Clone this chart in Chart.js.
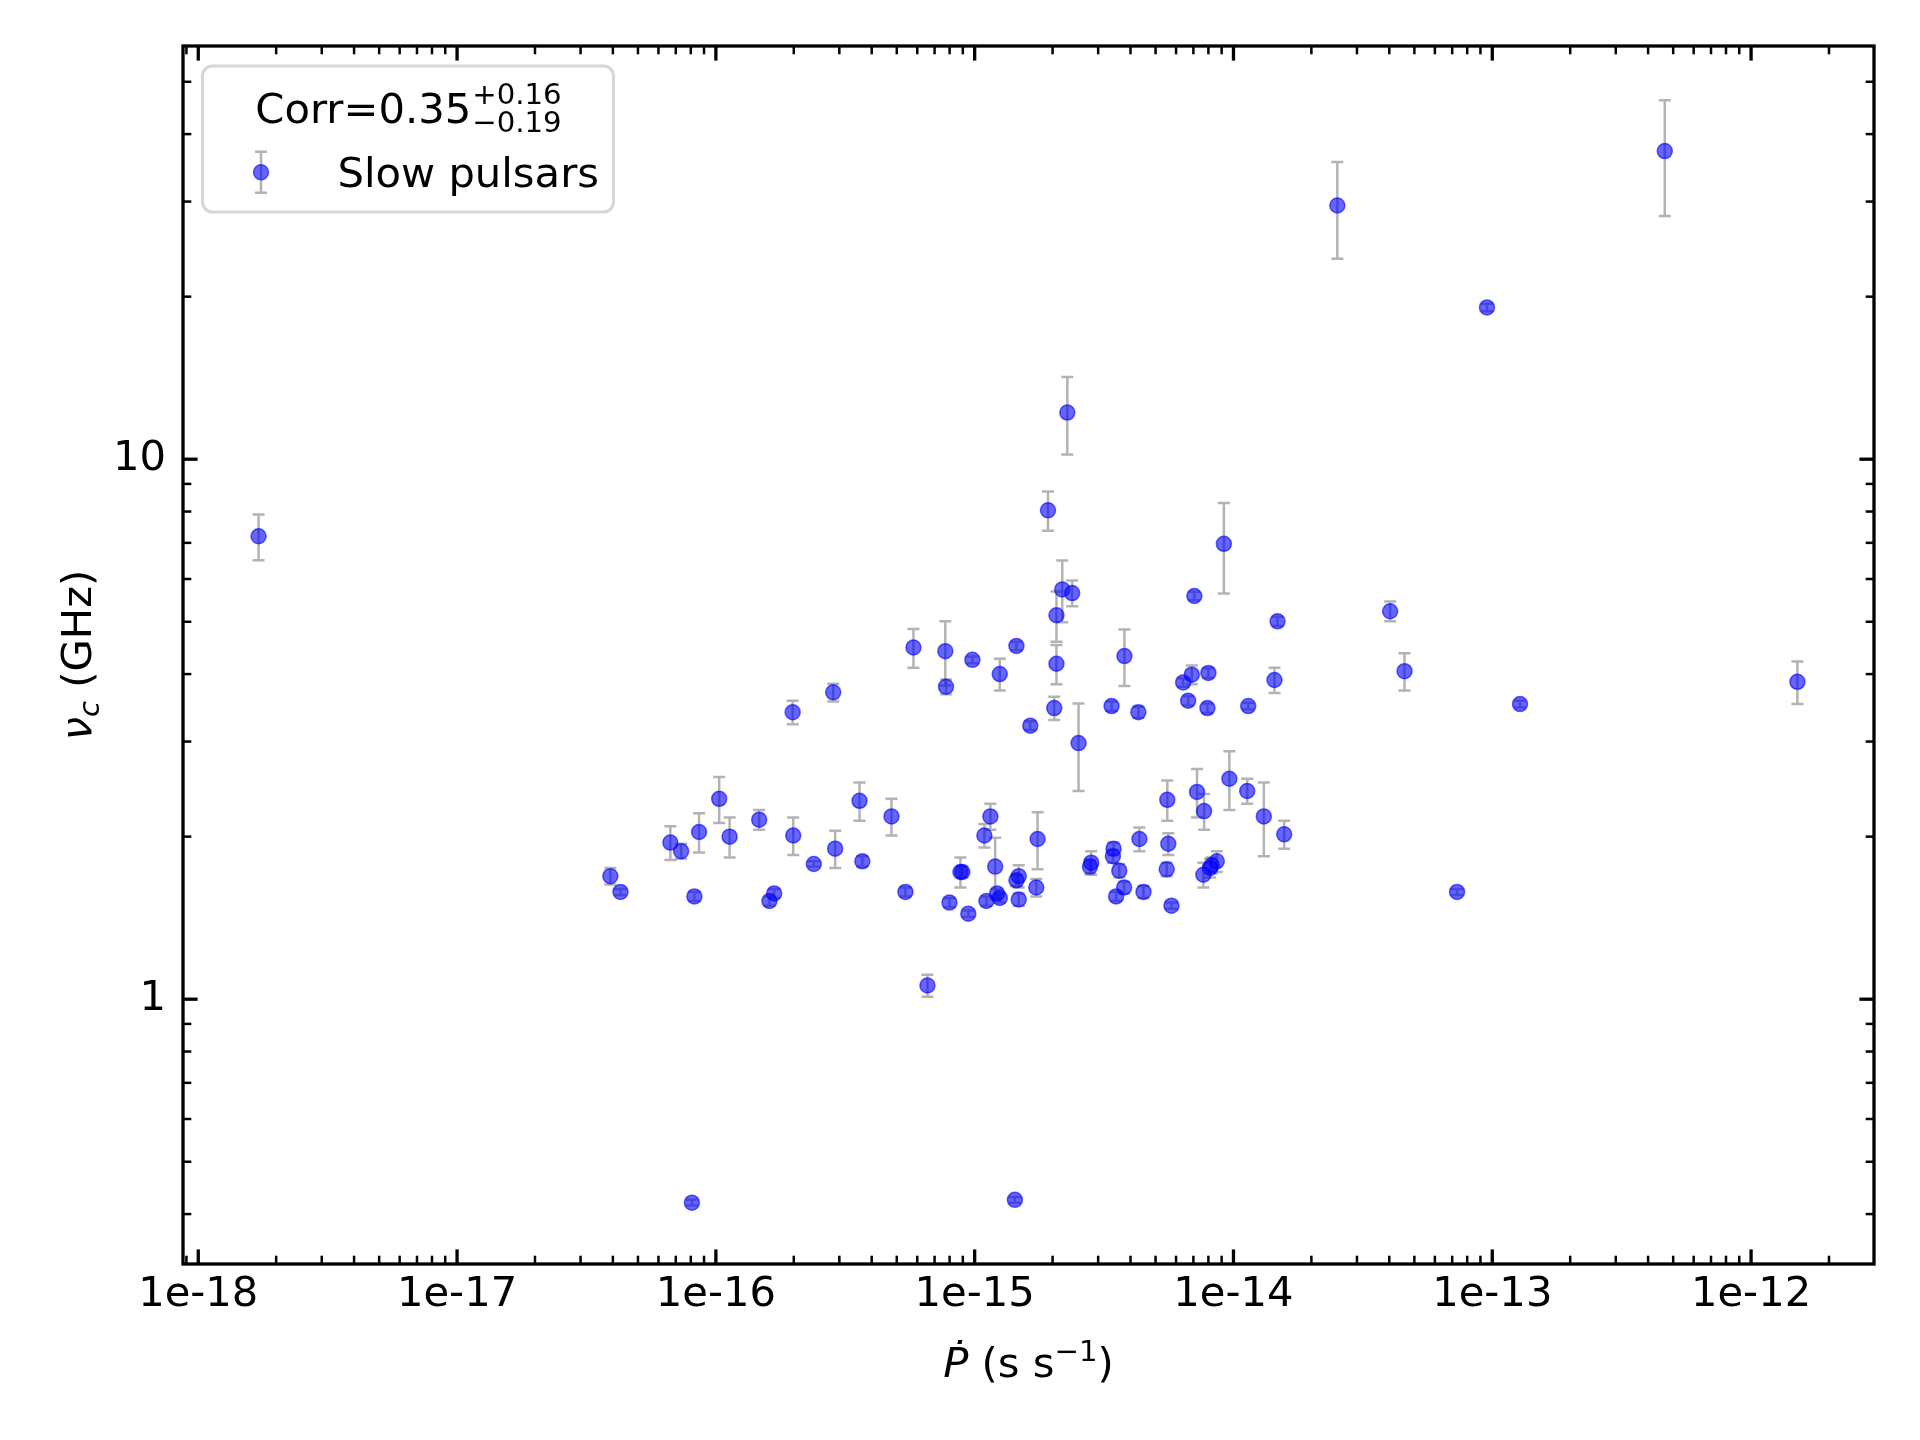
<!DOCTYPE html>
<html>
<head>
<meta charset="utf-8">
<script src="https://cdn.jsdelivr.net/npm/chart.js@4.4.1/dist/chart.umd.min.js"></script>
<style>
  html, body { margin: 0; padding: 0; background: #fff; }
  canvas { display: block; }
</style>
</head>
<body>
<canvas id="chart" width="1920" height="1440"></canvas>
<script>
// Pdot (s/s) of each slow pulsar
var pdot = [
  1.71e-18, 3.91e-17, 4.28e-17, 6.67e-17, 7.34e-17, 8.61e-17, 8.26e-17, 1.03e-16, 1.13e-16, 1.47e-16,
  1.61e-16, 1.68e-16, 1.98e-16, 1.99e-16, 2.39e-16, 2.84e-16, 2.89e-16, 3.59e-16, 3.68e-16, 4.77e-16,
  5.40e-16, 5.80e-16, 6.57e-16, 7.70e-16, 7.75e-16, 7.99e-16, 9.45e-16, 9.80e-16, 8.81e-16, 8.96e-16,
  1.11e-15, 1.09e-15, 1.15e-15, 1.20e-15, 1.22e-15, 1.25e-15, 1.25e-15, 1.45e-15, 1.48e-15, 1.45e-15,
  1.48e-15, 1.73e-15, 1.75e-15, 1.64e-15, 2.18e-15, 2.38e-15, 2.07e-15, 2.07e-15, 2.03e-15, 2.52e-15,
  3.38e-15, 4.29e-15, 3.79e-15, 6.39e-15, 6.90e-15, 8.00e-15, 6.68e-15, 7.93e-15, 1.14e-14, 1.44e-14,
  7.06e-15, 1.48e-14, 2.28e-15, 1.92e-15, 9.18e-15, 8.08e-17, 1.43e-15, 2.52e-14, 9.54e-14, 4.64e-13,
  4.03e-14, 4.58e-14, 1.28e-13, 1.51e-12, 7.31e-14, 2.82e-15, 2.79e-15, 3.44e-15, 3.42e-15, 3.62e-15,
  3.78e-15, 3.52e-15, 4.49e-15, 4.33e-15, 5.55e-15, 5.60e-15, 5.52e-15, 5.76e-15, 7.23e-15, 7.70e-15,
  9.64e-15, 1.13e-14, 1.31e-14, 1.57e-14, 7.65e-15, 8.12e-15, 8.62e-15, 8.24e-15
];
// nu_c (GHz)
var nuc = [
  7.20, 1.69, 1.58, 1.95, 1.88, 2.04, 1.55, 2.35, 2.00, 2.15,
  1.52, 1.57, 3.40, 2.01, 1.78, 3.70, 1.90, 2.33, 1.80, 2.18,
  1.58, 4.48, 1.06, 4.41, 3.79, 1.51, 1.44, 4.25, 1.72, 1.72,
  1.52, 2.01, 2.18, 1.76, 1.57, 1.54, 4.00, 4.51, 1.69, 1.66,
  1.53, 1.61, 1.98, 3.21, 5.74, 5.65, 5.14, 4.18, 3.46, 2.98,
  3.49, 3.40, 4.32, 3.86, 3.99, 4.02, 3.57, 3.46, 3.49, 3.90,
  5.58, 5.01, 12.2, 8.04, 6.97, 0.42, 0.425, 29.5, 19.1, 37.2,
  5.23, 4.05, 3.52, 3.87, 1.58, 1.79, 1.76, 1.90, 1.84, 1.73,
  1.61, 1.55, 1.58, 1.98, 2.34, 1.94, 1.74, 1.49, 2.42, 2.23,
  2.56, 2.43, 2.18, 2.02, 1.70, 1.75, 1.80, 1.77
];
// 1-sigma error on nu_c (GHz)
var nucErr = [
  0.70, 0.06, 0.02, 0.14, 0.06, 0.17, 0.03, 0.23, 0.17, 0.09,
  0.03, 0.03, 0.17, 0.16, 0.02, 0.14, 0.15, 0.19, 0.04, 0.17,
  0.03, 0.37, 0.05, 0.60, 0.12, 0.03, 0.02, 0.06, 0.11, 0.04,
  0.03, 0.10, 0.12, 0.23, 0.03, 0.03, 0.27, 0.08, 0.08, 0.04,
  0.04, 0.06, 0.24, 0.06, 0.75, 0.31, 0.55, 0.35, 0.17, 0.55,
  0.07, 0.08, 0.52, 0.07, 0.16, 0.08, 0.07, 0.07, 0.05, 0.21,
  0.10, 0.10, 2.0, 0.67, 1.33, 0.005, 0.005, 6.0, 0.3, 9.0,
  0.22, 0.32, 0.05, 0.35, 0.02, 0.09, 0.05, 0.05, 0.05, 0.05,
  0.04, 0.03, 0.04, 0.10, 0.20, 0.09, 0.05, 0.02, 0.25, 0.17,
  0.32, 0.13, 0.34, 0.12, 0.09, 0.07, 0.08, 0.06
];

var seriesName = 'Slow pulsars';
var corrText = 'Corr=0.35';
var corrUp = '+0.16';
var corrDown = '\u22120.19';

var xDecades = [-19, -18, -17, -16, -15, -14, -13, -12];
var yDecades = [-1, 0, 1];
var xMin = 8.73e-19, xMax = 2.985e-12;
var yMin = 0.3233, yMax = 58.24;

var FONT = '"DejaVu Sans"';
var FS = 41.7, FS_SMALL = 29.2;

function tickList(decades, lo, hi) {
  var out = [];
  decades.forEach(function (d) {
    for (var m = 1; m < 10; m++) {
      var v = m * Math.pow(10, d);
      if (v >= lo && v <= hi) out.push(v);
    }
  });
  return out;
}
function isDecade(v) {
  var l = Math.log10(v);
  return Math.abs(l - Math.round(l)) < 1e-9;
}
var xTicks = tickList(xDecades, xMin, xMax);
var yTicks = tickList(yDecades, yMin, yMax);

var errorBars = {
  id: 'errorBars',
  beforeDatasetsDraw: function (chart) {
    var ctx = chart.ctx, xs = chart.scales.x, ys = chart.scales.y;
    ctx.save();
    ctx.strokeStyle = 'rgba(128,128,128,0.6)';
    ctx.lineWidth = 2.5;
    for (var i = 0; i < pdot.length; i++) {
      var px = xs.getPixelForValue(pdot[i]);
      var y0 = ys.getPixelForValue(nuc[i] - nucErr[i]);
      var y1 = ys.getPixelForValue(nuc[i] + nucErr[i]);
      ctx.beginPath();
      ctx.moveTo(px, y0); ctx.lineTo(px, y1);
      ctx.moveTo(px - 6, y0); ctx.lineTo(px + 6, y0);
      ctx.moveTo(px - 6, y1); ctx.lineTo(px + 6, y1);
      ctx.stroke();
    }
    ctx.restore();
  }
};

function seg(ctx, x0, y0, x1, y1) {
  ctx.beginPath(); ctx.moveTo(x0, y0); ctx.lineTo(x1, y1); ctx.stroke();
}

var frameTicks = {
  id: 'frameTicks',
  afterDatasetsDraw: function (chart) {
    var ctx = chart.ctx, a = chart.chartArea, xs = chart.scales.x, ys = chart.scales.y;
    ctx.save();
    ctx.strokeStyle = '#000';
    xTicks.forEach(function (v) {
      var px = xs.getPixelForValue(v);
      var major = isDecade(v);
      var len = major ? 14.6 : 8.3;
      ctx.lineWidth = major ? 3.3 : 2.5;
      seg(ctx, px, a.bottom, px, a.bottom - len);
      seg(ctx, px, a.top, px, a.top + len);
    });
    yTicks.forEach(function (v) {
      var py = ys.getPixelForValue(v);
      var major = isDecade(v);
      var len = major ? 14.6 : 8.3;
      ctx.lineWidth = major ? 3.3 : 2.5;
      seg(ctx, a.left, py, a.left + len, py);
      seg(ctx, a.right, py, a.right - len, py);
    });
    ctx.lineWidth = 3.3;
    ctx.strokeRect(a.left, a.top, a.right - a.left, a.bottom - a.top);
    ctx.restore();
  }
};

function drawRuns(ctx, runs, x, base) {
  runs.forEach(function (r) {
    ctx.font = r.font;
    ctx.fillText(r.text, x, base - (r.rise || 0));
    x += ctx.measureText(r.text).width;
  });
}
function runsWidth(ctx, runs) {
  var w = 0;
  runs.forEach(function (r) { ctx.font = r.font; w += ctx.measureText(r.text).width; });
  return w;
}

var labelsAndLegend = {
  id: 'labelsAndLegend',
  afterDraw: function (chart) {
    var ctx = chart.ctx, a = chart.chartArea;
    var big = FS + 'px ' + FONT, small = FS_SMALL + 'px ' + FONT;
    var itBig = 'italic ' + big, itSmall = 'italic ' + small;
    ctx.save();
    ctx.fillStyle = '#000';
    ctx.textAlign = 'left';
    ctx.textBaseline = 'alphabetic';

    // x axis title
    var xr = [
      { text: '\u1E56', font: itBig },
      { text: ' (s s', font: big },
      { text: '\u22121', font: small, rise: 16 },
      { text: ')', font: big }
    ];
    var cx = (a.left + a.right) / 2;
    drawRuns(ctx, xr, cx - runsWidth(ctx, xr) / 2, a.bottom + 113);

    // y axis title
    var yr = [
      { text: '\u03BD', font: itBig },
      { text: 'c', font: itSmall, rise: -8 },
      { text: ' (GHz)', font: big }
    ];
    ctx.save();
    ctx.translate(91, (a.top + a.bottom) / 2);
    ctx.rotate(-Math.PI / 2);
    drawRuns(ctx, yr, -runsWidth(ctx, yr) / 2, 0);
    ctx.restore();

    // legend box
    var bx = a.left + 19.5, by = a.top + 20, bw = 411, bh = 146;
    ctx.beginPath();
    ctx.roundRect(bx, by, bw, bh, 10);
    ctx.fillStyle = 'rgba(255,255,255,0.8)';
    ctx.fill();
    ctx.lineWidth = 3;
    ctx.strokeStyle = 'rgba(204,204,204,0.8)';
    ctx.stroke();

    // legend title with super/subscript
    ctx.fillStyle = '#000';
    ctx.font = big;
    var w0 = ctx.measureText(corrText).width;
    ctx.font = small;
    var w1 = Math.max(ctx.measureText(corrUp).width, ctx.measureText(corrDown).width);
    var tx = bx + bw / 2 - (w0 + w1) / 2, tb = by + 56.7;
    ctx.font = big;
    ctx.fillText(corrText, tx, tb);
    ctx.font = small;
    ctx.fillText(corrUp, tx + w0 + 1, tb - 18.7);
    ctx.fillText(corrDown, tx + w0 + 1, tb + 9);

    // legend entry
    var mx = bx + 58.5, my = by + 106.3;
    ctx.strokeStyle = 'rgba(128,128,128,0.6)';
    ctx.lineWidth = 2.5;
    ctx.beginPath();
    ctx.moveTo(mx, my - 20.5); ctx.lineTo(mx, my + 20.5);
    ctx.moveTo(mx - 6, my - 20.5); ctx.lineTo(mx + 6, my - 20.5);
    ctx.moveTo(mx - 6, my + 20.5); ctx.lineTo(mx + 6, my + 20.5);
    ctx.stroke();
    ctx.beginPath();
    ctx.arc(mx, my, 7.5, 0, Math.PI * 2);
    ctx.fillStyle = 'rgba(0,0,255,0.6)';
    ctx.fill();
    ctx.lineWidth = 1.5;
    ctx.strokeStyle = 'rgba(0,0,255,0.6)';
    ctx.stroke();
    ctx.fillStyle = '#000';
    ctx.font = big;
    ctx.fillText(seriesName, bx + 135, by + 120.7);
    ctx.restore();
  }
};

function decadeLabel(prefixE) {
  return function (value) {
    if (!isDecade(value)) return '';
    var e = Math.round(Math.log10(value));
    return prefixE ? '1e' + e : String(Math.pow(10, e));
  };
}

var points = pdot.map(function (p, i) { return { x: p, y: nuc[i] }; });

new Chart(document.getElementById('chart').getContext('2d'), {
  type: 'scatter',
  data: {
    datasets: [{
      label: seriesName,
      data: points,
      pointRadius: 7.5,
      pointBorderWidth: 1.5,
      pointBackgroundColor: 'rgba(0,0,255,0.6)',
      pointBorderColor: 'rgba(0,0,255,0.6)'
    }]
  },
  options: {
    responsive: false,
    animation: false,
    devicePixelRatio: 1,
    events: [],
    layout: { padding: { top: 46, right: 46, left: 0, bottom: 0 } },
    plugins: {
      legend: { display: false },
      tooltip: { enabled: false },
      title: { display: false }
    },
    scales: {
      x: {
        type: 'logarithmic',
        position: 'bottom',
        bounds: 'data',
        min: xMin,
        max: xMax,
        grid: { display: false, drawTicks: false },
        border: { display: false },
        ticks: {
          autoSkip: false, maxRotation: 0, minRotation: 0,
          padding: 6, color: '#000',
          font: { family: 'DejaVu Sans', size: FS },
          callback: decadeLabel(true)
        },
        afterBuildTicks: function (scale) {
          scale.ticks = xTicks.map(function (v) { return { value: v }; });
        },
        afterFit: function (scale) { scale.height = 176; }
      },
      y: {
        type: 'logarithmic',
        position: 'left',
        bounds: 'data',
        min: yMin,
        max: yMax,
        grid: { display: false, drawTicks: false },
        border: { display: false },
        ticks: {
          autoSkip: false, padding: 17, color: '#000',
          font: { family: 'DejaVu Sans', size: FS },
          callback: decadeLabel(false)
        },
        afterBuildTicks: function (scale) {
          scale.ticks = yTicks.map(function (v) { return { value: v }; });
        },
        afterFit: function (scale) { scale.width = 183; }
      }
    }
  },
  plugins: [errorBars, frameTicks, labelsAndLegend]
});
</script>
</body>
</html>
